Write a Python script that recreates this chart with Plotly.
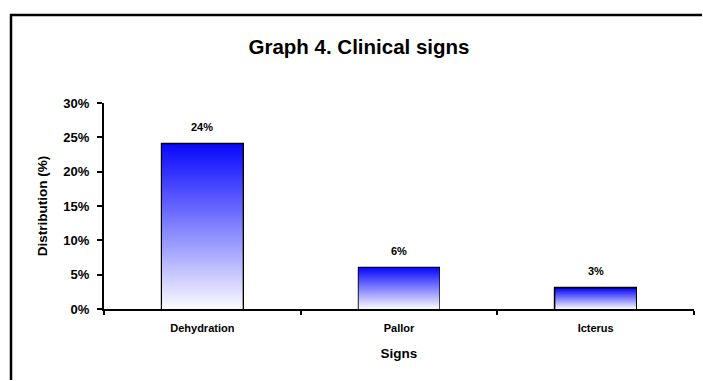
import plotly.graph_objects as go

# Clinical signs observed (share of cases)
signs = ["Dehydration", "Pallor", "Icterus"]
shares = [0.24, 0.06, 0.03]
share_labels = ["24%", "6%", "3%"]
y_ticks = [0, 0.05, 0.10, 0.15, 0.20, 0.25, 0.30]

BAR_W = 0.41
FONT = "Liberation Sans, Arial, sans-serif"
positions = list(range(len(signs)))

fig = go.Figure()

# Gradient fill of each bar: white at the base to blue at the top
for pos, val in zip(positions, shares):
    x0, x1 = pos - BAR_W / 2, pos + BAR_W / 2
    fig.add_trace(go.Scatter(
        x=[x0, x1, x1, x0, x0],
        y=[0, 0, val, val, 0],
        mode="lines",
        fill="toself",
        line=dict(width=0),
        fillgradient=dict(
            type="vertical",
            colorscale=[[0, "#fbfbff"], [1, "#0808ff"]],
            start=0,
            stop=val,
        ),
        hoverinfo="skip",
        showlegend=False,
    ))

# Bar outlines
fig.add_trace(go.Bar(
    x=positions,
    y=shares,
    width=BAR_W,
    marker=dict(color="rgba(0,0,0,0)", line=dict(color="black", width=2.2)),
    hoverinfo="skip",
    showlegend=False,
))

# Value labels above the bars
for pos, val, lab in zip(positions, shares, share_labels):
    fig.add_annotation(
        x=pos, y=val, text=f"<b>{lab}</b>", showarrow=False,
        yanchor="bottom", yshift=9,
        font=dict(family=FONT, size=11, color="black"),
    )

# Outer frame of the chart: a single open path along the left and top edges
fx0 = (11 - 104) / 590
fx_end = (702 - 104) / 590
fy1 = (309 - 15) / 206
fy_end = (309 - 380) / 206
fig.add_shape(
    type="path", xref="paper", yref="paper",
    path=f"M {fx0} {fy_end} L {fx0} {fy1} L {fx_end} {fy1}",
    line=dict(color="black", width=2.5),
    layer="below",
)

fig.update_layout(
    width=703, height=381,
    margin=dict(l=104, r=9, t=103, b=72),
    paper_bgcolor="white", plot_bgcolor="white",
    font=dict(family=FONT, color="black"),
    title=dict(
        text="<b>Graph 4. Clinical signs</b>",
        x=359 / 703, xanchor="center", xref="container",
        y=1 - 47 / 381, yanchor="middle", yref="container",
        font=dict(family=FONT, size=20.5, color="black"),
    ),
    bargap=0,
)

fig.update_xaxes(
    range=[-0.5, len(signs) - 0.5],
    tickvals=positions,
    ticktext=[f"<b>{s}</b>" for s in signs],
    ticks="",
    tickfont=dict(family=FONT, size=11, color="black"),
    ticklabelstandoff=8,
    minor=dict(
        tickvals=[p - 0.5 for p in positions] + [positions[-1] + 0.5],
        ticks="outside", ticklen=4, tickwidth=2, tickcolor="black",
    ),
    showline=True, linecolor="black", linewidth=2,
    showgrid=False, zeroline=False,
    title=dict(text="<b>Signs</b>", font=dict(family=FONT, size=13.5, color="black"), standoff=15),
)

fig.update_yaxes(
    range=[0, 0.30],
    tickvals=y_ticks,
    ticktext=[f"<b>{round(v * 100)}%</b>" for v in y_ticks],
    ticks="outside", ticklen=5, tickwidth=2, tickcolor="black",
    tickfont=dict(family=FONT, size=13, color="black"),
    ticklabelstandoff=5,
    showline=True, linecolor="black", linewidth=2,
    showgrid=False, zeroline=False,
    title=dict(text="<b>Distribution (%)</b>", font=dict(family=FONT, size=13.5, color="black"), standoff=13),
)

fig.write_html("out.html", config={"displayModeBar": False})
